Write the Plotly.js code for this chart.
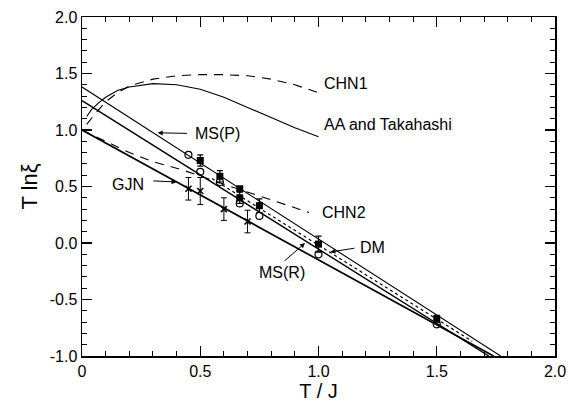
<!DOCTYPE html>
<html>
<head>
<meta charset="utf-8">
<script src="https://cdn.plot.ly/plotly-3.0.1.min.js"></script>
<style>html,body{margin:0;padding:0;background:#fff}#chart{width:569px;height:414px}</style>
</head>
<body>
<div id="chart"></div>
<script>
// ---- data ----
const msP_x = [0, 1.77];
const msP_y = [1.38, -1.0];
const msR_x = [0, 1.72];
const msR_y = [1.26, -1.0];
const gjn_x = [0, 1.74];
const gjn_y = [1.0, -1.0];
const dm_x = [0.55, 1.65];
const dm_y = [0.57, -0.87];
const aa_x = [0.02, 0.04, 0.07, 0.1, 0.15, 0.2, 0.3, 0.4, 0.5, 0.6, 0.7, 0.8, 0.9, 1.0];
const aa_y = [1.12, 1.18, 1.24, 1.29, 1.35, 1.38, 1.41, 1.40, 1.36, 1.29, 1.20, 1.11, 1.02, 0.94];
const chn1_x = [0.02, 0.05, 0.1, 0.15, 0.2, 0.3, 0.4, 0.5, 0.6, 0.7, 0.8, 0.9, 1.0];
const chn1_y = [1.05, 1.13, 1.25, 1.33, 1.39, 1.45, 1.48, 1.49, 1.49, 1.48, 1.45, 1.40, 1.33];
const chn2_x = [0, 0.1, 0.2, 0.3, 0.42, 0.6, 0.77, 0.96];
const chn2_y = [1.0, 0.9, 0.8, 0.72, 0.65, 0.52, 0.40, 0.27];
const circ_x = [0.45, 0.5, 0.583, 0.667, 0.75, 1.0, 1.5];
const circ_y = [0.78, 0.63, 0.54, 0.35, 0.24, -0.10, -0.72];
const sq_x = [0.5, 0.583, 0.667, 0.667, 0.75, 1.0, 1.5];
const sq_y = [0.73, 0.59, 0.48, 0.40, 0.33, -0.01, -0.67];
const sq_err = [0.05, 0.05, 0.02, 0.05, 0.06, 0.07, 0.03];
const cross_x = [0.45, 0.5, 0.6, 0.7];
const cross_y = [0.48, 0.46, 0.30, 0.19];
const cross_err = [0.10, 0.12, 0.10, 0.10];
const xTickVals = [0, 0.5, 1.0, 1.5, 2.0];
const xTickText = ["0", "0.5", "1.0", "1.5", "2.0"];
const yTickVals = [-1.0, -0.5, 0.0, 0.5, 1.0, 1.5, 2.0];
const yTickText = ["-1.0", "-0.5", "0.0", "0.5", "1.0", "1.5", "2.0"];

const K = '#000';
const line = (x, y, w, dash) => ({x, y, mode: 'lines', type: 'scatter', line: {color: K, width: w, dash: dash || 'solid'}, hoverinfo: 'skip'});
const traces = [
  line(msP_x, msP_y, 1.1),
  line(msR_x, msR_y, 1.4),
  line(gjn_x, gjn_y, 1.7),
  line(dm_x, dm_y, 1.2, 'dot'),
  line(aa_x, aa_y, 1.1),
  line(chn1_x, chn1_y, 1.1, '9px,7px'),
  line(chn2_x, chn2_y, 1.1, '9px,7px'),
  {x: circ_x, y: circ_y, mode: 'markers', type: 'scatter',
   marker: {symbol: 'circle-open', size: 7, color: K, line: {width: 1.2, color: K}}},
  {x: sq_x, y: sq_y, mode: 'markers', type: 'scatter',
   error_y: {type: 'data', array: sq_err, visible: true, color: K, thickness: 1.2, width: 3},
   marker: {symbol: 'square', size: 7, color: K}},
  {x: cross_x, y: cross_y, mode: 'markers', type: 'scatter',
   error_y: {type: 'data', array: cross_err, visible: true, color: K, thickness: 1, width: 3},
   marker: {symbol: 'x-thin', size: 6, color: K, line: {width: 1.6, color: K}}}
];

const F = {family: 'Liberation Sans, Arial, sans-serif', size: 16, color: K};
const txt = (x, y, t) => ({x, y, xref: 'x', yref: 'y', text: t, showarrow: false, xanchor: 'left', yanchor: 'middle', font: F});
const arr = (ax, ay, x, y) => ({x, y, ax, ay, xref: 'x', yref: 'y', axref: 'x', ayref: 'y', text: '', showarrow: true, arrowhead: 2, arrowsize: 1, arrowwidth: 1, arrowcolor: K});

const annotations = [
  txt(1.015, 1.41, 'CHN1'),
  txt(1.015, 1.05, 'AA and Takahashi'),
  txt(1.005, 0.27, 'CHN2'),
  txt(0.47, 0.965, 'MS(P)'),
  arr(0.45, 0.97, 0.32, 0.975),
  txt(0.12, 0.52, 'GJN'),
  arr(0.295, 0.55, 0.40, 0.54),
  txt(0.74, -0.26, 'MS(R)'),
  arr(0.85, -0.17, 0.943, 0.0),
  txt(1.165, -0.04, 'DM'),
  arr(1.158, -0.044, 1.05, -0.08)
];

const axisBase = {
  showgrid: false, zeroline: false, showline: true, linecolor: K, linewidth: 1.5,
  mirror: 'ticks', ticks: 'inside', ticklen: 10, tickwidth: 1.2, tickcolor: K,
  tickfont: F
};

const layout = {
  width: 569, height: 414,
  margin: {l: 82, r: 14, t: 17, b: 58},
  paper_bgcolor: '#fff', plot_bgcolor: '#fff',
  showlegend: false,
  xaxis: Object.assign({}, axisBase, {
    range: [0, 2], tickmode: 'array', tickvals: xTickVals, ticktext: xTickText,
    minor: {dtick: 0.1, ticks: 'inside', ticklen: 5, tickwidth: 1, tickcolor: K},
    title: {text: 'T / J', font: {family: F.family, size: 20, color: K}, standoff: 4}
  }),
  yaxis: Object.assign({}, axisBase, {
    range: [-1, 2], tickmode: 'array', tickvals: yTickVals, ticktext: yTickText,
    minor: {dtick: 0.1, ticks: 'inside', ticklen: 5, tickwidth: 1, tickcolor: K},
    title: {text: 'T lnξ', font: {family: F.family, size: 22, color: K}, standoff: 6}
  }),
  annotations
};

Plotly.newPlot('chart', traces, layout, {displayModeBar: false, staticPlot: true});
</script>
</body>
</html>
